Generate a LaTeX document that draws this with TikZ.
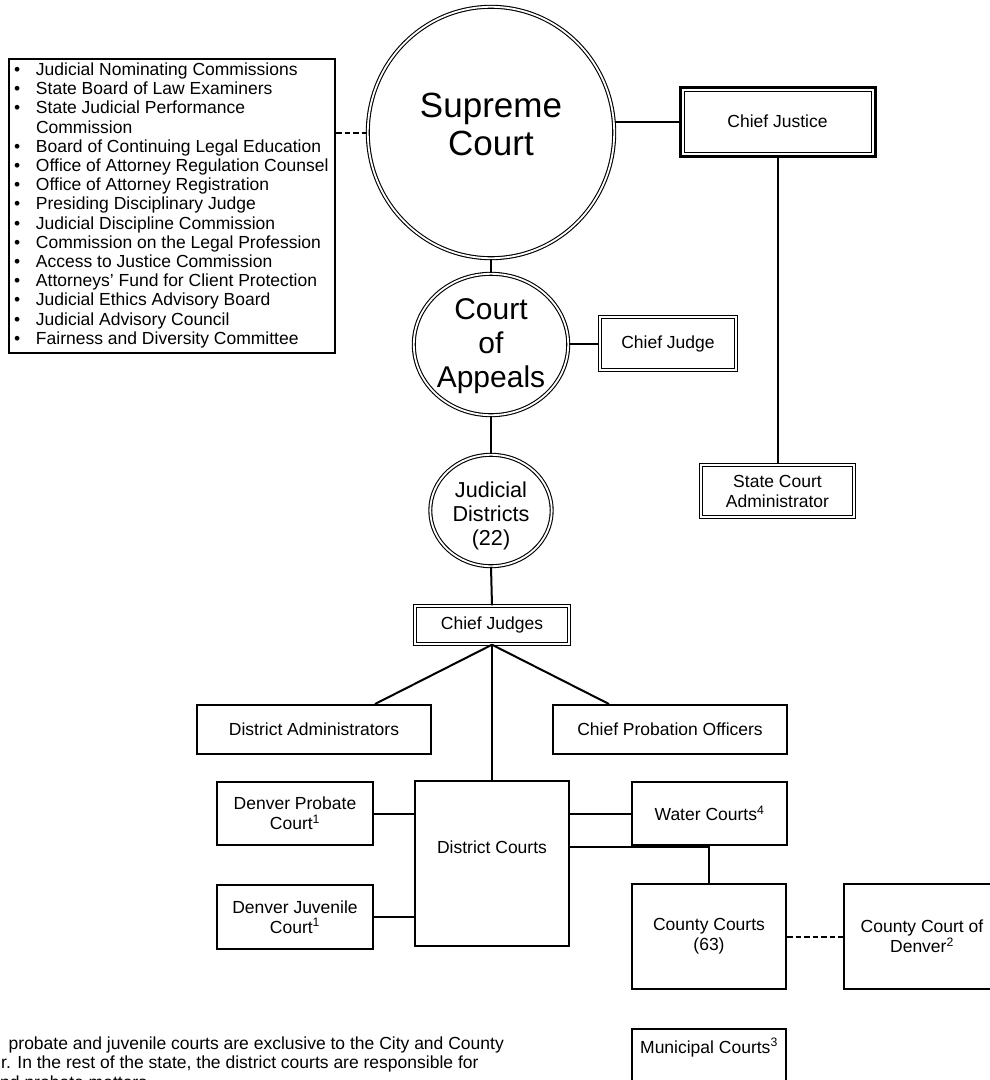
\documentclass[tikz,border=0pt]{standalone}
\usepackage{fontspec}
\setmainfont{Liberation Sans}
\usetikzlibrary{shapes.geometric}
\tikzset{
  bx/.style={draw, line width=2pt, inner sep=0pt, align=center, font=\fontsize{17.5}{20}\selectfont},
  dbx/.style={bx, double, line width=1pt, double distance=1.8pt},
  circ/.style={ellipse, draw, double, line width=1.1pt, double distance=1.8pt, inner sep=0pt},
  ctext/.style={inner sep=0pt, align=center},
  conn/.style={line width=2pt},
  dconn/.style={line width=2pt, dash pattern=on 5.5pt off 3pt},
  fn/.style={anchor=base west, inner sep=0pt, font=\fontsize{17.5}{20}\selectfont},
}
\begin{document}
\begin{tikzpicture}[x=1pt,y=-1pt]
\useasboundingbox (0,0) rectangle (990,1080);
\clip (0,0) rectangle (990,1080);

% list box
\node[bx, anchor=north west, inner xsep=5pt, inner ysep=3pt, align=left,
      font=\fontsize{17.5}{19.2}\selectfont] (list) at (8,58) {%
\begin{tabular}{@{}p{22pt}@{}p{294pt}@{}}
• & Judicial Nominating Commissions\\
• & State Board of Law Examiners\\
• & State Judicial Performance\\
  & Commission\\
• & Board of Continuing Legal Education\\
• & Office of Attorney Regulation Counsel\\
• & Office of Attorney Registration\\
• & Presiding Disciplinary Judge\\
• & Judicial Discipline Commission\\
• & Commission on the Legal Profession\\
• & Access to Justice Commission\\
• & Attorneys’ Fund for Client Protection\\
• & Judicial Ethics Advisory Board\\
• & Judicial Advisory Council\\
• & Fairness and Diversity Committee
\end{tabular}};

% main column
\node[circ, minimum width=246.4pt, minimum height=251.4pt] (sc) at (491,132.5) {};
\node[ctext, font=\fontsize{35}{38}\selectfont] (sct) at (491,124) {Supreme\\Court};
\node[bx, line width=1pt, minimum width=187pt, minimum height=61pt] (cj) at (777.5,121.5) {Chief Justice};
\draw[line width=3pt] ([shift={(-3.5pt,3.5pt)}]cj.north west) rectangle ([shift={(3.5pt,-3.5pt)}]cj.south east);

\node[circ, minimum width=154.4pt, minimum height=141.4pt] (ca) at (491,344.5) {};
\node[ctext, font=\fontsize{30}{34}\selectfont] (cat) at (491,346.5) {Court\\of\\Appeals};
\node[dbx, minimum width=136.4pt, minimum height=53.4pt] (chj) at (668,343.5) {Chief Judge};
\node[dbx, minimum width=153.4pt, minimum height=52.4pt] (sca) at (777.5,491) {State Court\\Administrator};

\node[circ, minimum width=121.4pt, minimum height=111.4pt] (jd) at (491,510.5) {};
\node[ctext, font=\fontsize{21.6}{24}\selectfont] (jdt) at (491,515.5) {Judicial\\Districts\\(22)};
\node[dbx, minimum width=154.4pt, minimum height=38.4pt] (cjs) at (492,625) {Chief Judges};

\node[bx, minimum width=234pt, minimum height=49pt] (da) at (314,729.5) {District Administrators};
\node[bx, minimum width=234pt, minimum height=49pt] (cpo) at (670,729.5) {Chief Probation Officers};

\node[bx, minimum width=156pt, minimum height=63pt] (dpc) at (295,813.5) {Denver Probate\\Court\textsuperscript{1}};
\node[bx, minimum width=156pt, minimum height=64pt] (djc) at (295,917) {Denver Juvenile\\Court\textsuperscript{1}};
\node[bx, minimum width=154pt, minimum height=165pt] (dc) at (492,863.5) {};
\node[ctext, font=\fontsize{17.5}{20}\selectfont] (dct) at (492,847) {District Courts};
\node[bx, minimum width=155pt, minimum height=63pt] (wc) at (709.5,813.5) {Water Courts\textsuperscript{4}};
\node[bx, minimum width=154pt, minimum height=105pt] (cc) at (709,936.5) {County Courts\\(63)};
\node[bx, minimum width=156pt, minimum height=105pt] (ccd) at (922,936.5) {County Court of\\Denver\textsuperscript{2}};
\node[bx, anchor=north, minimum width=154pt, inner ysep=0pt, text height=24pt, text depth=80pt] (mc) at (709,1028) {Municipal Courts\textsuperscript{3}};

% connectors
\draw[dconn] (list.east |- sc.west) -- (sc.west);
\draw[conn] (sc.east |- cj.west) -- ([xshift=-3.5pt]cj.west);
\draw[conn] ([yshift=-3.5pt]cj.south) -- (sca.north);
\draw[conn] (sc.south) -- (ca.north);
\draw[conn] (ca.east |- chj.west) -- (chj.west);
\draw[conn] (ca.south) -- (jd.north);
\draw[conn] (jd.south) -- (cjs.north);
\draw[conn] (cjs.south) -- ([xshift=61pt]da.north);
\draw[conn] (cjs.south) -- ([xshift=-61pt]cpo.north);
\draw[conn] (cjs.south) -- (dc.north);
\draw[conn] (dpc.east) -- (dpc.east -| dc.west);
\draw[conn] (djc.east) -- (djc.east -| dc.west);
\draw[conn] (wc.west -| dc.east) -- (wc.west);
\draw[conn] (dc.east |- dct.east) -| (cc.north);
\draw[dconn] (cc.east) -- (ccd.west);

% footnote
\node[fn] (fn1) at (8.5,1049) {probate and juvenile courts are exclusive to the City and County};
\node[fn] (fn2) at (1,1068.5) {r. In the rest of the state, the district courts are responsible for};
\node[fn] (fn3) at (0,1088) {nd probate matters.};
\end{tikzpicture}
\end{document}
